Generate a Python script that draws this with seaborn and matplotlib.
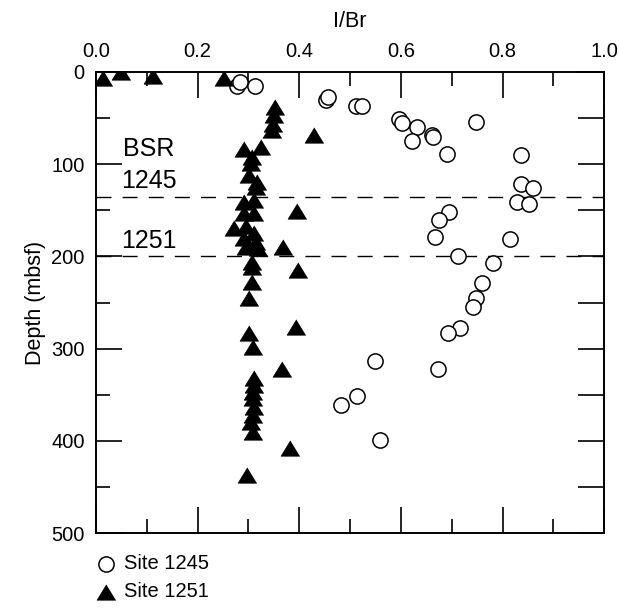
import numpy as np
import pandas as pd
import matplotlib
matplotlib.use('Agg')
import matplotlib.pyplot as plt
import seaborn as sns

# Site 1245 (open circles)
ibr_1245 = [0.278, 0.284, 0.312, 0.452, 0.457, 0.511, 0.524, 0.596, 0.602, 0.632,
            0.622, 0.661, 0.663, 0.690, 0.747, 0.837, 0.836, 0.860, 0.828, 0.853,
            0.694, 0.676, 0.667, 0.814, 0.712, 0.781, 0.760, 0.747, 0.742, 0.716,
            0.692, 0.549, 0.673, 0.513, 0.483, 0.558]
depth_1245 = [15.5, 10.6, 15.5, 30.7, 27, 37, 37, 50.5, 55, 59.6,
              75, 68.6, 71, 88.4, 54, 90, 121, 126, 141.5, 143,
              151.6, 160, 178.7, 181.6, 199.7, 207.6, 229, 245.5, 254.6, 278,
              283.5, 313, 322.5, 351, 361, 399]

# Site 1251 (filled triangles)
ibr_1251 = [0.013, 0.049, 0.113, 0.252, 0.352, 0.350, 0.349, 0.346, 0.430, 0.291,
            0.324, 0.308, 0.305, 0.301, 0.316, 0.314, 0.291, 0.311, 0.395, 0.291,
            0.311, 0.272, 0.295, 0.311, 0.291, 0.314, 0.295, 0.318, 0.369, 0.308,
            0.308, 0.398, 0.308, 0.302, 0.394, 0.302, 0.309, 0.367, 0.311, 0.311,
            0.309, 0.309, 0.311, 0.309, 0.306, 0.310, 0.381, 0.298]
depth_1251 = [6, 0, 4, 6, 38, 47, 56, 63, 68.6, 83,
              81, 92, 99, 112, 119, 125, 141, 139, 151, 153,
              153, 169.7, 167, 175, 180.5, 184, 189.6, 191.3, 189.6, 205.8,
              211, 214.8, 227.5, 245.5, 276.3, 282.8, 298, 322.5, 332, 339.5,
              346.7, 354, 363, 372, 379, 390, 408, 437]

bsr_depths = [136, 200]
bsr_text = ['BSR', '1245', '1251']

plt.rcParams['font.family'] = ['Liberation Sans', 'DejaVu Sans']
fig, ax = plt.subplots(figsize=(6.19, 6.10), dpi=100)
fig.subplots_adjust(left=0.155, right=0.976, top=0.882, bottom=0.126)

tri = [(0, 0.82), (-1, -0.82), (1, -0.82)]
sns.scatterplot(x=ibr_1245, y=depth_1245, marker='o', s=120, color='white',
                edgecolor='black', linewidth=1.1, label='Site 1245', ax=ax, zorder=3)
sns.scatterplot(x=ibr_1251, y=depth_1251, marker=tri, s=182, color='black',
                edgecolor='black', linewidth=0.5, label='Site 1251', ax=ax, zorder=4)

for d in bsr_depths:
    ax.axhline(d, color='black', lw=1.0, dashes=(10.8, 8), zorder=2)

ax.text(0.054, 83, bsr_text[0], fontsize=18, va='center', ha='left')
ax.text(0.050, 118, bsr_text[1], fontsize=18, va='center', ha='left')
ax.text(0.050, 183, bsr_text[2], fontsize=18, va='center', ha='left')

ax.set_xlim(0, 1)
ax.set_ylim(500, 0)
ax.set_xticks(np.arange(0, 1.01, 0.2))
ax.set_xticks(np.arange(0.1, 1.0, 0.2), minor=True)
ax.set_yticks(range(0, 501, 100))
ax.set_yticks(range(50, 500, 100), minor=True)
ax.xaxis.set_major_formatter(matplotlib.ticker.FormatStrFormatter('%.1f'))
ax.xaxis.set_label_position('top')
ax.tick_params(axis='x', which='both', top=True, bottom=True, labeltop=True,
               labelbottom=False, direction='in')
ax.tick_params(axis='y', which='both', left=True, right=False, direction='in')
ax.tick_params(which='major', length=19, width=1.2, labelsize=14.5, pad=8)
ax.tick_params(which='minor', length=10, width=1.2)
ax.set_xlabel('I/Br', fontsize=15.5, labelpad=11)
ax.set_ylabel('Depth (mbsf)', fontsize=15.5, labelpad=4)
for sp in ax.spines.values():
    sp.set_linewidth(1.4)

ax2 = ax.twinx()
ax2.set_ylim(500, 0)
ax2.set_yticks(range(0, 501, 50))
ax2.tick_params(axis='y', direction='in', length=19, width=1.2, labelright=False)
for sp in ax2.spines.values():
    sp.set_visible(False)

ax.legend(loc='upper left', bbox_to_anchor=(0.0, -0.045), frameon=False,
          fontsize=14.5, handletextpad=0.4, handlelength=1.0, borderpad=0,
          labelspacing=0.45, borderaxespad=0)

fig.savefig('out.png', dpi=100)
